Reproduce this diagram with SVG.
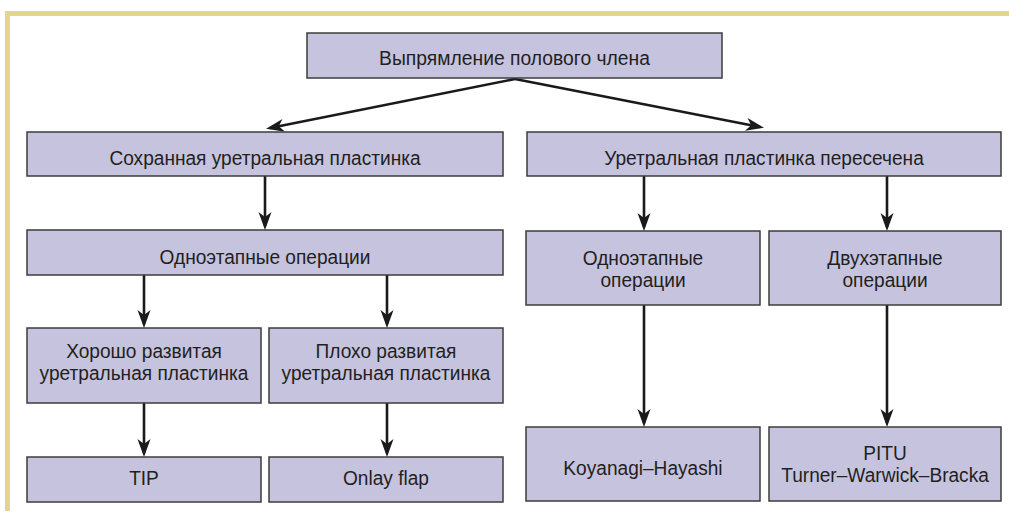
<svg xmlns="http://www.w3.org/2000/svg" width="1009" height="514" viewBox="0 0 1009 514">
<style>
.box{fill:#c6c3df;stroke:#3c3c3c;stroke-width:1.5}
.t{font-family:"Liberation Sans",Arial,sans-serif;font-size:21px;fill:#231f20;text-anchor:middle}
.c{stroke:#1a1a1a;stroke-width:2.6;fill:none;marker-end:url(#ah)}
</style>
<defs>
<marker id="ah" markerUnits="userSpaceOnUse" markerWidth="19" markerHeight="14" refX="14" refY="6.5" orient="auto" viewBox="0 0 19 14">
<path d="M0,0 L18,6.5 L0,13 L5,6.5 Z" fill="#1a1a1a"/>
</marker>
</defs>
<rect x="5" y="11" width="1004" height="5" fill="#e3d68b"/>
<rect x="5" y="11" width="5" height="500" fill="#e3d68b"/>

<g id="connectors">
<line class="c" x1="515" y1="79" x2="270" y2="128"/>
<line class="c" x1="515" y1="79" x2="760" y2="127"/>
<line class="c" x1="265" y1="176" x2="265" y2="226"/>
<line class="c" x1="144" y1="275" x2="144" y2="324"/>
<line class="c" x1="387" y1="275" x2="387" y2="324"/>
<line class="c" x1="144" y1="403" x2="144" y2="453"/>
<line class="c" x1="387" y1="403" x2="387" y2="453"/>
<line class="c" x1="644" y1="176" x2="644" y2="227"/>
<line class="c" x1="887" y1="176" x2="887" y2="227"/>
<line class="c" x1="644" y1="305" x2="644" y2="423"/>
<line class="c" x1="887" y1="305" x2="887" y2="423"/>
</g>

<g id="n-root"><rect class="box" x="307" y="33" width="415" height="45"/><text class="t" transform="matrix(0.92 0 0 1 514.5 64.5)">Выпрямление полового члена</text></g>
<g id="n-preserved"><rect class="box" x="27" y="132" width="476" height="44"/><text class="t" transform="matrix(0.91 0 0 1 265 165)">Сохранная уретральная пластинка</text></g>
<g id="n-cut"><rect class="box" x="527" y="132" width="474" height="44"/><text class="t" transform="matrix(0.91 0 0 1 764 165)">Уретральная пластинка пересечена</text></g>
<g id="n-onestage-left"><rect class="box" x="27" y="230" width="476" height="45"/><text class="t" transform="matrix(0.91 0 0 1 265 263.5)">Одноэтапные операции</text></g>
<g id="n-onestage-right"><rect class="box" x="526" y="231" width="234" height="74"/><text class="t" transform="matrix(0.91 0 0 1 643 265)">Одноэтапные</text><text class="t" transform="matrix(0.91 0 0 1 643 287)">операции</text></g>
<g id="n-twostage"><rect class="box" x="769" y="231" width="232" height="74"/><text class="t" transform="matrix(0.91 0 0 1 885 265)">Двухэтапные</text><text class="t" transform="matrix(0.91 0 0 1 885 287)">операции</text></g>
<g id="n-good"><rect class="box" x="27" y="328" width="234" height="75"/><text class="t" transform="matrix(0.91 0 0 1 144 358)">Хорошо развитая</text><text class="t" transform="matrix(0.91 0 0 1 144 380)">уретральная пластинка</text></g>
<g id="n-poor"><rect class="box" x="269" y="328" width="234" height="75"/><text class="t" transform="matrix(0.91 0 0 1 386 358)">Плохо развитая</text><text class="t" transform="matrix(0.91 0 0 1 386 380)">уретральная пластинка</text></g>
<g id="n-tip"><rect class="box" x="27" y="457" width="234" height="45"/><text class="t" transform="matrix(0.91 0 0 1 144 485)">TIP</text></g>
<g id="n-onlay"><rect class="box" x="269" y="457" width="234" height="45"/><text class="t" transform="matrix(0.91 0 0 1 386 485)">Onlay flap</text></g>
<g id="n-koyanagi"><rect class="box" x="526" y="427" width="234" height="74"/><text class="t" transform="matrix(0.91 0 0 1 643 475)">Koyanagi–Hayashi</text></g>
<g id="n-pitu"><rect class="box" x="769" y="427" width="232" height="74"/><text class="t" transform="matrix(0.91 0 0 1 885 460)">PITU</text><text class="t" transform="matrix(0.91 0 0 1 885 482)">Turner–Warwick–Bracka</text></g>
</svg>
